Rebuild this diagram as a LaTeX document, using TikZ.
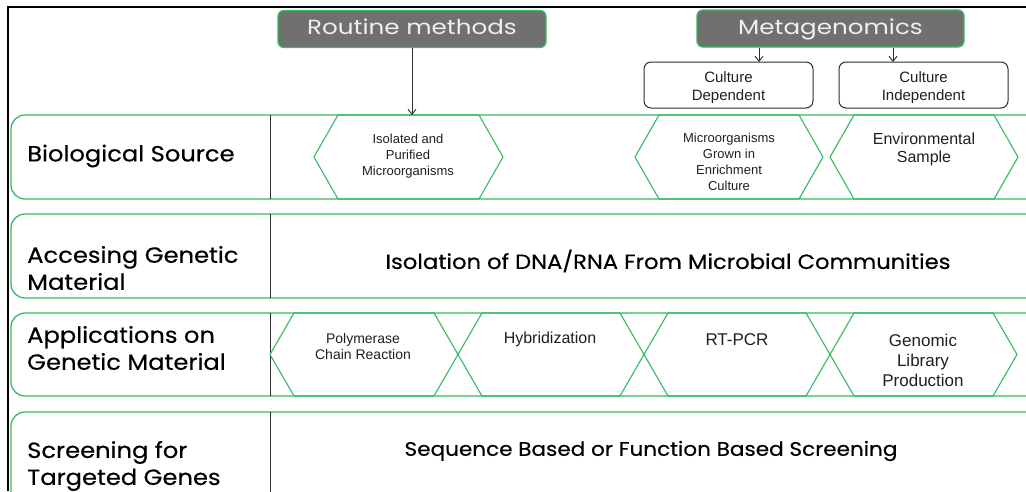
\documentclass[tikz,border=0pt]{standalone}
\usepackage{fontspec}
\setmainfont{Liberation Sans}
\newfontfamily\comicfont{Poppins}[FakeStretch=1.1,FakeBold=0.4]
\newfontfamily\comicwide{Poppins}[FakeStretch=1.2]
\usepackage{tikz}
\usetikzlibrary{arrows.meta}
\definecolor{rowgreen}{RGB}{52,186,98}
\definecolor{headgray}{RGB}{112,112,112}
\definecolor{inkgray}{RGB}{45,45,45}

\begin{document}
\begin{tikzpicture}[x=1pt,y=-1pt,
  rowbox/.style={draw=rowgreen,line width=1.3pt,rounded corners=14pt},
  hexline/.style={draw=rowgreen,line width=1.1pt,line join=round},
  divline/.style={draw=inkgray,line width=1pt},
  headbox/.style={draw=rowgreen,fill=headgray,line width=1.3pt,rounded corners=6pt,text=white!94!black,
    font=\comicwide\fontsize{20.5}{24}\selectfont,minimum height=37pt,text height=14pt,text depth=2.5pt},
  culturebox/.style={draw=inkgray,line width=1pt,rounded corners=7pt,minimum width=169pt,minimum height=46pt},
  rowlabel/.style={anchor=west,align=left,inner sep=0pt,font=\comicfont\fontsize{22}{27}\selectfont},
  rowtext/.style={inner sep=0pt,font=\comicfont\fontsize{20.6}{24}\selectfont},
  hextext/.style={align=center,inner sep=0pt,text=black!88},
  arr/.style={draw=inkgray,line width=0.9pt,-{Straight Barb[length=5pt,width=8pt]}}]
\useasboundingbox(0,0)rectangle(1026,491);
\clip(0,0)rectangle(1026,491);
% frame
\draw[line width=2pt](8,491)--(8,7)--(1026,7);
% header boxes
\node[headbox,minimum width=268pt](routine)at(412,29){Routine methods};
\node[headbox,minimum width=267pt](meta)at(830.5,28.5){Metagenomics};
\node[culturebox](cdep)at(728.5,85){};\node[culturebox](cind)at(923.5,85){};
\node[hextext,font=\fontsize{15}{18}\selectfont](cdeplbl)at(728.5,88){Culture\\Dependent};
\node[hextext,font=\fontsize{15}{18}\selectfont](cindlbl)at(923.5,88){Culture\\Independent};
% rows
\draw[rowbox](11,115)rectangle(1060,199);\draw[divline](270,115)--(270,199);
\draw[rowbox](11,214)rectangle(1060,298);\draw[divline](270,214)--(270,298);
\draw[rowbox](11,313)rectangle(1060,396);\draw[divline](270,313)--(270,396);
\draw[rowbox](11,412)rectangle(1060,520);\draw[divline](270,412)--(270,520);
% hexagons, biological source
\draw[hexline](314,157)--(338,115)--(479,115)--(503,157)--(479,199)--(338,199)--cycle;
\draw[hexline](635,157)--(659,115)--(799,115)--(823,157)--(799,199)--(659,199)--cycle;
\draw[hexline](830,157)--(854,115)--(994,115)--(1018,157)--(994,199)--(854,199)--cycle;
% hexagons, applications
\draw[hexline](270,354.5)--(294,313)--(434,313)--(458,354.5)--(434,396)--(294,396)--cycle;
\draw[hexline](458,354.5)--(482,313)--(620,313)--(644,354.5)--(620,396)--(482,396)--cycle;
\draw[hexline](644,354.5)--(668,313)--(806,313)--(830,354.5)--(806,396)--(668,396)--cycle;
\draw[hexline](830,354.5)--(854,313)--(993,313)--(1017,354.5)--(993,396)--(854,396)--cycle;
% arrows
\coordinate(srcTop)at(412,115);\coordinate(depIn)at(759,62);\coordinate(indIn)at(893,62);
\draw[arr](routine)--(srcTop);
\draw[arr](depIn|-meta.south)--(depIn);\draw[arr](indIn|-meta.south)--(indIn);
% row labels
\node[rowlabel](bio)at(27,156){Biological Source};
\node[rowlabel](acc)at(27,268){Accesing Genetic\\Material};
\node[rowlabel](app)at(27,348){Applications on\\Genetic Material};
\node[rowlabel](scr)at(27,466){Screening for\\Targeted Genes};
% row contents
\node[hextext,font=\fontsize{13}{16}\selectfont](iso)at(408,156){Isolated and\\Purified\\Microorganisms};
\node[hextext,font=\fontsize{13}{16}\selectfont](enr)at(729,162){Microorganisms\\Grown in\\Enrichment\\Culture};
\node[hextext,font=\fontsize{16}{18}\selectfont](env)at(924,149){Environmental\\Sample};
\node[rowtext](dna)at(668,261){Isolation of DNA/RNA From Microbial Communities};
\node[hextext,font=\fontsize{14}{16}\selectfont](pcr)at(363,346){Polymerase\\Chain Reaction};
\node[hextext,font=\fontsize{16}{18}\selectfont](hyb)at(550,339){Hybridization};
\node[hextext,font=\fontsize{17}{20}\selectfont](rt)at(737,340){RT-PCR};
\node[hextext,font=\fontsize{17}{20}\selectfont](gen)at(923,360){Genomic\\Library\\Production};
\node[rowtext,font=\comicfont\fontsize{19.6}{24}\selectfont](seq)at(651,451){Sequence Based or Function Based Screening};
\end{tikzpicture}
\end{document}
